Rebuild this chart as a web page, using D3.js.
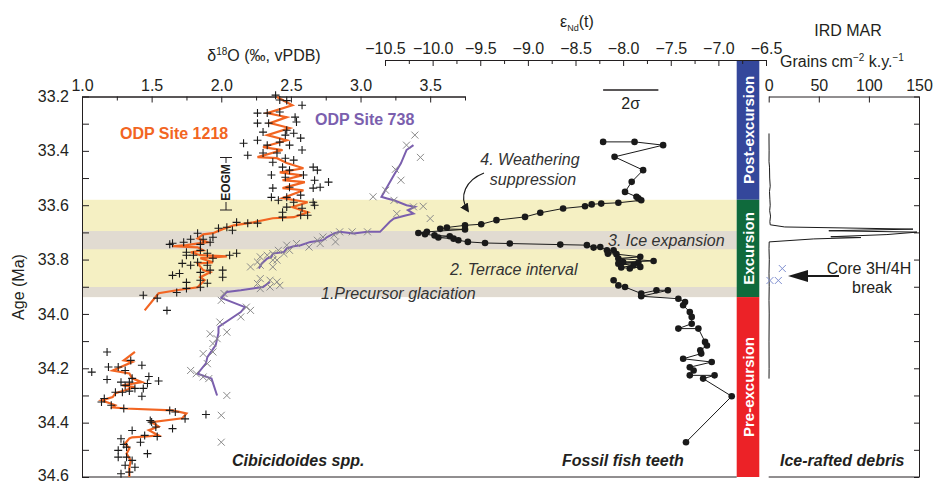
<!DOCTYPE html>
<html>
<head>
<meta charset="utf-8">
<script src="https://cdn.jsdelivr.net/npm/d3@7"></script>
<style>
body { margin: 0; background: #fff; }
svg { font-family: "Liberation Sans", Arial, sans-serif; }
</style>
</head>
<body>
<svg id="chart" width="937" height="484"></svg>
<script>
// ---- data ----
var ageLabels = [33.2, 33.4, 33.6, 33.8, 34.0, 34.2, 34.4, 34.6];
var ageTicks = [33.2, 33.3, 33.4, 33.5, 33.6, 33.7, 33.8, 33.9, 34.0, 34.1, 34.2, 34.3, 34.4, 34.5, 34.6];
var o18Labels = [1.0, 1.5, 2.0, 2.5, 3.0, 3.5];
var o18Minor = [1.25, 1.75, 2.25, 2.75, 3.25, 3.75];
var ndLabels = [-10.5, -10.0, -9.5, -9.0, -8.5, -8.0, -7.5, -7.0, -6.5];
var ndMinor = [-10.25, -9.75, -9.25, -8.75, -8.25, -7.75, -7.25, -6.75];
var irdLabels = [0, 50, 100, 150];

// shaded intervals [from, to] in Ma
var terraceBand = [33.58, 33.938];
var greyBands = [[33.695, 33.762], [33.901, 33.938]];

// stages
var stageNames = ["Post-excursion", "Excursion", "Pre-excursion"];
var stageBounds = [[null, 33.58], [33.58, 33.938], [33.938, 34.6]];

// ODP 1218 smoothed curve [age, d18O]
var site1218Upper = [[33.202,2.40],[33.232,2.51],[33.261,2.33],[33.276,2.47],[33.298,2.35],[33.316,2.49],[33.342,2.33],[33.361,2.47],[33.386,2.30],[33.397,2.44],[33.423,2.26],[33.427,2.40],[33.445,2.47],[33.464,2.59],[33.479,2.42],[33.490,2.58],[33.508,2.44],[33.515,2.60],[33.537,2.44],[33.545,2.59],[33.574,2.44],[33.589,2.62],[33.607,2.51],[33.626,2.62],[33.644,2.52],[33.648,2.37],[33.663,2.23],[33.674,2.09],[33.688,2.01],[33.703,1.94],[33.707,1.87],[33.722,1.83],[33.736,1.90],[33.747,1.75],[33.751,1.65],[33.755,1.83],[33.766,1.87],[33.773,1.78],[33.784,1.85],[33.788,2.04],[33.795,1.85],[33.810,1.94],[33.814,1.83],[33.839,1.87],[33.847,1.92],[33.865,1.85],[33.876,1.88],[33.902,1.83],[33.913,1.68],[33.924,1.55],[33.987,1.45]];
var site1218Lower = [[34.140,1.38],[34.171,1.30],[34.177,1.36],[34.208,1.22],[34.219,1.34],[34.237,1.36],[34.251,1.43],[34.263,1.29],[34.269,1.38],[34.281,1.31],[34.292,1.24],[34.306,1.22],[34.318,1.14],[34.336,1.24],[34.344,1.22],[34.348,1.31],[34.355,1.65],[34.366,1.75],[34.384,1.72],[34.398,1.50],[34.414,1.55],[34.428,1.48],[34.447,1.55],[34.451,1.46],[34.454,1.36],[34.458,1.34],[34.477,1.31],[34.495,1.34],[34.514,1.32],[34.539,1.35],[34.565,1.34],[34.600,1.34]];
// ODP 1218 samples
var site1218Points = [[33.195,2.39],[33.213,2.42],[33.215,2.47],[33.232,2.58],[33.261,2.26],[33.261,2.33],[33.257,2.42],[33.276,2.53],[33.298,2.26],[33.298,2.34],[33.294,2.54],[33.324,2.47],[33.331,2.30],[33.342,2.46],[33.335,2.52],[33.353,2.57],[33.372,2.16],[33.361,2.26],[33.379,2.33],[33.368,2.42],[33.379,2.49],[33.397,2.58],[33.416,2.19],[33.408,2.30],[33.408,2.40],[33.427,2.46],[33.434,2.52],[33.442,2.37],[33.460,2.44],[33.471,2.49],[33.460,2.66],[33.471,2.69],[33.489,2.36],[33.497,2.46],[33.489,2.59],[33.508,2.67],[33.515,2.77],[33.537,2.37],[33.534,2.49],[33.537,2.66],[33.534,2.71],[33.571,2.36],[33.571,2.47],[33.563,2.57],[33.582,2.41],[33.589,2.52],[33.589,2.66],[33.607,2.47],[33.611,2.58],[33.600,2.67],[33.626,2.44],[33.637,2.57],[33.637,2.62],[33.644,2.44],[33.666,2.26],[33.666,2.19],[33.663,2.11],[33.681,2.04],[33.692,2.08],[33.685,1.98],[33.718,1.94],[33.703,1.83],[33.725,1.87],[33.725,1.78],[33.736,1.73],[33.744,1.63],[33.740,1.65],[33.744,1.85],[33.736,1.92],[33.773,1.75],[33.766,1.85],[33.777,1.90],[33.784,1.80],[33.784,1.75],[33.784,2.06],[33.777,2.11],[33.795,1.94],[33.810,1.83],[33.814,1.72],[33.821,1.78],[33.821,1.90],[33.839,1.92],[33.851,1.70],[33.847,1.85],[33.839,2.01],[33.865,2.01],[33.858,1.65],[33.876,1.85],[33.884,1.75],[33.887,1.90],[33.906,1.75],[33.902,1.85],[33.931,1.44],[33.942,1.54],[33.921,1.68],[33.987,1.61],
  [34.140,1.18],[34.171,1.35],[34.189,1.43],[34.195,1.19],[34.195,1.26],[34.208,1.31],[34.214,1.07],[34.230,1.48],[34.241,1.18],[34.251,1.28],[34.251,1.34],[34.237,1.36],[34.256,1.47],[34.247,1.55],[34.263,1.31],[34.274,1.38],[34.274,1.44],[34.288,1.24],[34.288,1.29],[34.284,1.34],[34.303,1.43],[34.311,1.16],[34.324,1.14],[34.336,1.21],[34.348,1.30],[34.355,1.63],[34.361,1.67],[34.386,1.74],[34.370,1.89],[34.392,1.49],[34.398,1.50],[34.416,1.53],[34.422,1.65],[34.429,1.36],[34.447,1.45],[34.451,1.54],[34.459,1.28],[34.472,1.42],[34.480,1.30],[34.490,1.32],[34.502,1.26],[34.514,1.47],[34.527,1.26],[34.527,1.32],[34.539,1.36],[34.557,1.31],[34.564,1.38],[34.588,1.28],[34.582,1.34]];

// ODP 738 smoothed curve
var site738Upper = [[33.379,3.38],[33.397,3.33],[33.446,3.29],[33.489,3.24],[33.551,3.17],[33.569,3.15],[33.575,3.19],[33.582,3.24],[33.600,3.33],[33.606,3.39],[33.618,3.34],[33.631,3.38],[33.637,3.33],[33.649,3.24],[33.661,3.21],[33.698,3.14],[33.698,3.05],[33.704,2.95],[33.698,2.85],[33.704,2.81],[33.717,2.76],[33.729,2.73],[33.735,2.64],[33.747,2.57],[33.751,2.52],[33.759,2.47],[33.772,2.45],[33.778,2.37],[33.790,2.36],[33.796,2.33],[33.815,2.29],[33.833,2.27]];
var site738Lower = [[33.882,2.35],[33.901,2.30],[33.913,2.14],[33.919,2.04],[33.941,2.00],[33.975,2.17],[33.993,2.14],[34.048,1.98],[34.070,1.98],[34.115,1.96],[34.159,1.90],[34.182,1.89],[34.220,1.83],[34.238,1.93],[34.300,1.97]];
var site738Points = [[33.342,3.39],[33.379,3.33],[33.424,3.43],[33.468,3.25],[33.508,3.29],[33.545,3.18],[33.569,3.09],[33.582,3.24],[33.604,3.45],[33.631,3.26],[33.649,3.50],[33.606,3.38],[33.698,3.05],[33.698,2.94],[33.698,2.85],[33.710,2.81],[33.717,2.73],[33.735,2.82],[33.741,2.71],[33.729,2.69],[33.754,2.63],[33.741,2.54],[33.747,2.47],[33.766,2.49],[33.766,2.41],[33.778,2.37],[33.778,2.45],[33.784,2.33],[33.790,2.28],[33.802,2.37],[33.821,2.28],[33.827,2.21],[33.827,2.37],[33.802,2.40],[33.809,2.26],[33.876,2.35],[33.870,2.28],[33.882,2.40],[33.888,2.26],[33.901,2.35],[33.895,2.42],[33.907,2.28],[33.950,2.00],[33.975,2.18],[33.987,2.21],[33.925,2.02],[34.011,2.14],[34.030,1.99],[34.073,1.92],[34.067,2.04],[34.091,1.97],[34.109,1.94],[34.146,1.87],[34.140,1.94],[34.183,1.90],[34.208,1.78],[34.220,1.82],[34.232,1.87],[34.238,1.91],[34.300,2.04],[34.373,2.00],[34.472,2.00]];

// fossil fish teeth eNd(t) [age, eNd]
var teethUpper = [[33.367,-8.21],[33.367,-7.88],[33.379,-7.58],[33.422,-8.09],[33.471,-7.79],[33.514,-7.91],[33.551,-7.98],[33.569,-7.86],[33.575,-7.84],[33.582,-7.81],[33.591,-8.05],[33.594,-8.23],[33.597,-8.33],[33.604,-8.40],[33.612,-8.63],[33.628,-8.87],[33.643,-9.03],[33.655,-9.33],[33.670,-9.49],[33.674,-9.66],[33.682,-9.85],[33.687,-9.92],[33.689,-9.66],[33.698,-10.06],[33.702,-10.15],[33.707,-10.08],[33.711,-9.98],[33.714,-9.82],[33.719,-9.94],[33.723,-9.78],[33.729,-9.73],[33.735,-9.63],[33.739,-9.45],[33.741,-9.19],[33.745,-8.66],[33.747,-8.38],[33.756,-8.31],[33.754,-8.24],[33.766,-8.17],[33.766,-8.10],[33.778,-8.16],[33.780,-8.07],[33.790,-7.82],[33.796,-8.05],[33.805,-7.68],[33.809,-8.00],[33.812,-7.84],[33.815,-8.05],[33.821,-7.89],[33.829,-8.02],[33.833,-7.93],[33.827,-7.82]];
var teethLower = [[33.876,-8.10],[33.895,-8.05],[33.901,-7.98],[33.925,-7.81],[33.913,-7.65],[33.913,-7.53],[33.935,-7.81],[33.944,-7.42],[33.956,-7.35],[33.968,-7.37],[33.993,-7.30],[34.011,-7.28],[34.036,-7.28],[34.054,-7.42],[34.054,-7.21],[34.103,-7.14],[34.116,-7.12],[34.134,-7.19],[34.146,-7.18],[34.165,-7.37],[34.177,-7.07],[34.196,-7.30],[34.208,-7.26],[34.226,-7.30],[34.226,-7.04],[34.238,-7.16],[34.303,-6.86],[34.472,-7.34]];

// IRD MAR [age, grains cm-2 ky-1]
var irdLine = [[33.336,0.3],[33.36,0.3],[33.40,0.4],[33.44,0.3],[33.46,0.8],[33.50,1.0],[33.53,1.5],[33.55,0.8],[33.58,1.2],[33.60,1.5],[33.62,1.0],[33.64,1.8],[33.66,1.2],[33.672,1.5],[33.680,16],[33.688,144],[33.694,60],[33.699,148],[33.708,118],[33.716,62],[33.719,92],[33.724,45],[33.735,0.5],[33.76,0.3],[33.80,0.6],[33.85,0.3],[33.90,0.5],[33.95,0.3],[34.00,0.5],[34.10,0.3],[34.20,0.4],[34.238,0.3]];
var irdCross = [[33.877,1.3],[33.877,9.6],[33.833,13.6]];
var sigma2 = [-8.21, -7.63];

// ---- scales ----
var svg = d3.select("#chart");
var y = d3.scaleLinear().domain([33.2, 34.6]).range([96.5, 477]);
var xO = d3.scaleLinear().domain([1, 3.75]).range([82, 465]);
var xNd = d3.scaleLinear().domain([-10.5, -6.5]).range([385, 766]);
var xIrd = d3.scaleLinear().domain([0, 150]).range([768.7, 919]);
var panelRight = 736.7, barRight = 759.3;
var ink = "#231f20";

// bands
svg.append("rect").attr("x", 82).attr("width", panelRight - 82)
    .attr("y", y(terraceBand[0])).attr("height", y(terraceBand[1]) - y(terraceBand[0]))
    .attr("fill", "#f5f0c3");
svg.selectAll(".grey").data(greyBands).enter().append("rect")
    .attr("x", 82).attr("width", panelRight - 82)
    .attr("y", d => y(d[0])).attr("height", d => y(d[1]) - y(d[0]))
    .attr("fill", "#e1dbd1");

// stage bars
var stageColors = ["#34479b", "#0f6a3c", "#ec2227"];
svg.selectAll(".stage").data(stageBounds).enter().append("rect")
    .attr("x", panelRight).attr("width", barRight - panelRight)
    .attr("y", d => d[0] === null ? 60 : y(d[0]))
    .attr("height", d => y(d[1]) - (d[0] === null ? 60 : y(d[0])))
    .attr("fill", (d, i) => stageColors[i]);
svg.selectAll(".stageText").data(stageBounds).enter().append("text")
    .attr("transform", function (d) {
        var top = d[0] === null ? 60 : y(d[0]);
        return "translate(" + ((panelRight + barRight) / 2 + 5.5) + "," + ((top + y(d[1])) / 2) + ") rotate(-90)";
    })
    .attr("text-anchor", "middle").attr("fill", "#fff")
    .attr("font-weight", "bold").attr("font-size", "15px")
    .text((d, i) => stageNames[i]);

// ---- axes ----
function styleAxis(g) {
    g.select(".domain").attr("stroke", ink);
    g.selectAll(".tick line").attr("stroke", ink);
    g.selectAll(".tick text").attr("fill", ink).attr("font-size", "16px")
        .attr("font-family", "Liberation Sans, Arial, sans-serif");
}
// age axis
var ageAxis = svg.append("g").attr("transform", "translate(82,0)")
    .call(d3.axisLeft(y).tickValues(ageTicks).tickSizeInner(-7).tickSizeOuter(0).tickPadding(13)
        .tickFormat(d => ageLabels.some(a => Math.abs(a - d) < 1e-6) ? d3.format(".1f")(d) : ""))
    .call(styleAxis);
ageAxis.selectAll(".tick text").filter(d => d > 34.55).attr("dy", "0.2em");
// d18O axis
svg.append("g").attr("transform", "translate(0,96.5)")
    .call(d3.axisTop(xO).tickValues(o18Minor).tickSizeInner(-4).tickSizeOuter(0).tickFormat(""))
    .call(styleAxis);
svg.append("g").attr("transform", "translate(0,96.5)")
    .call(d3.axisTop(xO).tickValues(o18Labels).tickSizeInner(-6).tickSizeOuter(0).tickPadding(6).tickFormat(d3.format(".1f")))
    .call(styleAxis);
// eNd axis
svg.append("g").attr("transform", "translate(0,60)")
    .call(d3.axisTop(xNd).tickValues(ndMinor).tickSizeInner(-4).tickSizeOuter(0).tickFormat(""))
    .call(styleAxis);
svg.append("g").attr("transform", "translate(0,60)")
    .call(d3.axisTop(xNd).tickValues(ndLabels).tickSizeInner(-6).tickSizeOuter(0).tickPadding(6).tickFormat(d3.format(".1f")))
    .call(styleAxis);
// IRD axis
svg.append("g").attr("transform", "translate(0,96.5)")
    .call(d3.axisTop(xIrd).tickValues(irdLabels).tickSizeInner(-6).tickSizeOuter(0).tickPadding(6))
    .call(styleAxis);
svg.append("g").attr("transform", "translate(919,0)")
    .call(d3.axisLeft(y).tickValues(ageTicks).tickSizeInner(5).tickSizeOuter(0).tickFormat(""))
    .call(styleAxis);
// bottom lines
svg.append("line").attr("x1", 82).attr("x2", panelRight).attr("y1", 477).attr("y2", 477).attr("stroke", ink);
svg.append("line").attr("x1", xIrd(0)).attr("x2", 919).attr("y1", 477).attr("y2", 477).attr("stroke", ink);

// ---- data marks ----
var lineO = d3.line().x(d => xO(d[1])).y(d => y(d[0]));
var lineNd = d3.line().x(d => xNd(d[1])).y(d => y(d[0]));
var lineIrd = d3.line().x(d => xIrd(d[1])).y(d => y(d[0]));
var plus = "M-4,0H4M0,-4V4";
var cross = "M-3.5,-3.5L3.5,3.5M-3.5,3.5L3.5,-3.5";

[site1218Upper, site1218Lower].forEach(function (s) {
    svg.append("path").datum(s).attr("d", lineO).attr("fill", "none")
        .attr("stroke", "#f26522").attr("stroke-width", 2.2);
});
svg.selectAll(".p1218").data(site1218Points).enter().append("path")
    .attr("d", plus).attr("transform", d => "translate(" + xO(d[1]) + "," + y(d[0]) + ")")
    .attr("stroke", "#1a1a1a").attr("stroke-width", 1.1).attr("fill", "none");

[site738Upper, site738Lower].forEach(function (s) {
    svg.append("path").datum(s).attr("d", lineO).attr("fill", "none")
        .attr("stroke", "#7b5fae").attr("stroke-width", 2);
});
svg.selectAll(".p738").data(site738Points).enter().append("path")
    .attr("d", cross).attr("transform", d => "translate(" + xO(d[1]) + "," + y(d[0]) + ")")
    .attr("stroke", "#8a8a8a").attr("stroke-width", 1).attr("fill", "none");

[teethUpper, teethLower].forEach(function (s) {
    svg.append("path").datum(s).attr("d", lineNd).attr("fill", "none")
        .attr("stroke", "#1a1a1a").attr("stroke-width", 1);
    svg.append("g").selectAll("circle").data(s).enter().append("circle")
        .attr("cx", d => xNd(d[1])).attr("cy", d => y(d[0])).attr("r", 3.3).attr("fill", "#1a1a1a");
});

svg.append("path").datum(irdLine).attr("d", lineIrd).attr("fill", "none")
    .attr("stroke", "#1a1a1a").attr("stroke-width", 1);
svg.selectAll(".pird").data(irdCross).enter().append("path")
    .attr("d", cross).attr("transform", d => "translate(" + xIrd(d[1]) + "," + y(d[0]) + ")")
    .attr("stroke", "#7f8fd0").attr("stroke-width", 1).attr("fill", "none");

// 2 sigma bar
svg.append("line").attr("x1", xNd(sigma2[0])).attr("x2", xNd(sigma2[1])).attr("y1", 90).attr("y2", 90)
    .attr("stroke", ink).attr("stroke-width", 1.5);
svg.append("text").attr("x", xNd((sigma2[0] + sigma2[1]) / 2)).attr("y", 109).attr("text-anchor", "middle")
    .attr("font-size", "16px").attr("fill", ink).text("2σ");

// ---- titles ----
var t1 = svg.append("text").attr("x", 264).attr("y", 61).attr("text-anchor", "middle").attr("font-size", "16px").attr("fill", ink);
t1.append("tspan").text("δ");
t1.append("tspan").attr("font-size", "10px").attr("dy", -6).text("18");
t1.append("tspan").attr("dy", 6).text("O (‰, vPDB)");

var t2 = svg.append("text").attr("x", 577).attr("y", 27).attr("text-anchor", "middle").attr("font-size", "16px").attr("fill", ink);
t2.append("tspan").text("ε");
t2.append("tspan").attr("font-size", "9px").attr("dy", 4).text("Nd");
t2.append("tspan").attr("dy", -4).text("(t)");

svg.append("text").attr("x", 848).attr("y", 36).attr("text-anchor", "middle").attr("font-size", "16px").attr("fill", ink).text("IRD MAR");
var t3 = svg.append("text").attr("x", 780).attr("y", 67).attr("font-size", "16px").attr("fill", ink);
t3.append("tspan").text("Grains cm");
t3.append("tspan").attr("font-size", "10px").attr("dy", -6).text("−2");
t3.append("tspan").attr("dy", 6).text(" k.y.");
t3.append("tspan").attr("font-size", "10px").attr("dy", -6).text("−1");

svg.append("text").attr("transform", "translate(24,287) rotate(-90)").attr("text-anchor", "middle")
    .attr("font-size", "16px").attr("fill", ink).text("Age (Ma)");

// site labels
svg.append("text").attr("x", 120).attr("y", 139).attr("font-size", "16px").attr("font-weight", "bold")
    .attr("fill", "#f26522").text("ODP Site 1218");
svg.append("text").attr("x", 315).attr("y", 125).attr("font-size", "16px").attr("font-weight", "bold")
    .attr("fill", "#7b5fae").text("ODP Site 738");

// EOGM bar
var eogm = svg.append("g").attr("stroke", ink).attr("stroke-width", 1);
eogm.append("line").attr("x1", 220).attr("x2", 232).attr("y1", 157.5).attr("y2", 157.5);
eogm.append("line").attr("x1", 226).attr("x2", 226).attr("y1", 157.5).attr("y2", 163);
eogm.append("line").attr("x1", 226).attr("x2", 226).attr("y1", 202).attr("y2", 210);
eogm.append("line").attr("x1", 220).attr("x2", 232).attr("y1", 210).attr("y2", 210);
svg.append("text").attr("transform", "translate(230,182.5) rotate(-90)").attr("text-anchor", "middle")
    .attr("font-size", "12px").attr("font-weight", "bold").attr("fill", ink).text("EOGM");

// interval annotations
var notes = [
    {t: "4. Weathering", x: 530, y: 165, a: "middle"},
    {t: "suppression", x: 533, y: 185, a: "middle"},
    {t: "3. Ice expansion", x: 608, y: 246, a: "start"},
    {t: "2. Terrace interval", x: 450, y: 275, a: "start"},
    {t: "1.Precursor glaciation", x: 321, y: 299, a: "start"}
];
svg.selectAll(".note").data(notes).enter().append("text")
    .attr("x", d => d.x).attr("y", d => d.y).attr("text-anchor", d => d.a)
    .attr("font-size", "16px").attr("font-style", "italic").attr("fill", "#333").text(d => d.t);

svg.append("defs").append("marker").attr("id", "ah").attr("viewBox", "0 0 10 10")
    .attr("refX", 8).attr("refY", 5).attr("markerWidth", 9).attr("markerHeight", 9)
    .attr("markerUnits", "userSpaceOnUse").attr("orient", "auto")
    .append("path").attr("d", "M0,0L10,5L0,10Z").attr("fill", "#1a1a1a");
svg.append("path").attr("d", "M484,173 C466,180 458,196 468,211")
    .attr("fill", "none").attr("stroke", "#1a1a1a").attr("stroke-width", 1.2).attr("marker-end", "url(#ah)");

// record labels
var recs = [
    {t: "Cibicidoides spp.", x: 232},
    {t: "Fossil fish teeth", x: 562},
    {t: "Ice-rafted debris", x: 780}
];
svg.selectAll(".rec").data(recs).enter().append("text")
    .attr("x", d => d.x).attr("y", 466).attr("font-size", "16px")
    .attr("font-style", "italic").attr("font-weight", "bold").attr("fill", "#231f20").text(d => d.t);

// core break
svg.append("text").attr("x", 869).attr("y", 274).attr("text-anchor", "middle").attr("font-size", "16px").attr("fill", ink).text("Core 3H/4H");
svg.append("text").attr("x", 872).attr("y", 293).attr("text-anchor", "middle").attr("font-size", "16px").attr("fill", ink).text("break");
svg.append("line").attr("x1", 806).attr("x2", 839).attr("y1", 276).attr("y2", 276).attr("stroke", "#1a1a1a").attr("stroke-width", 2);
svg.append("path").attr("d", "M788,276L808,270L808,282Z").attr("fill", "#1a1a1a");
</script>
</body>
</html>
